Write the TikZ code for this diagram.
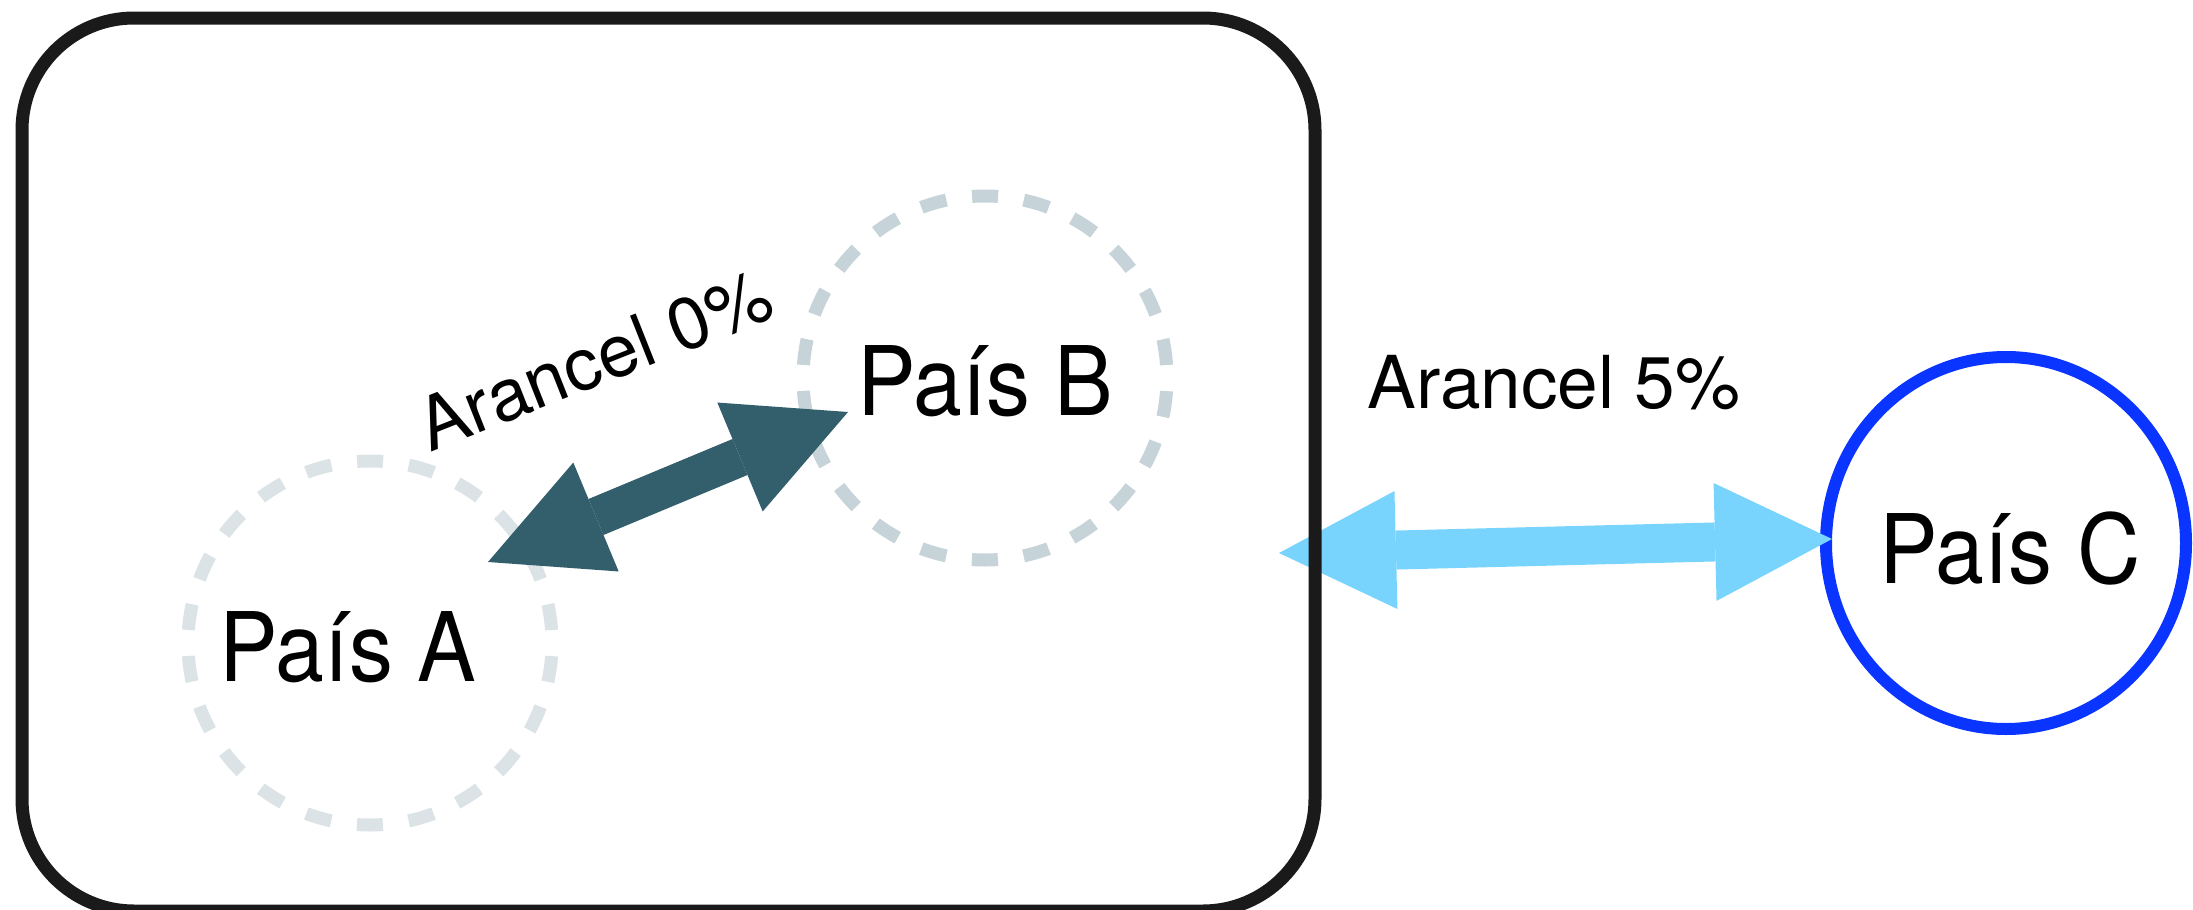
\documentclass[tikz,border=0pt]{standalone}
\usepackage{fontspec}
\setmainfont{TeX Gyre Heros}[FakeStretch=0.915]
\newfontfamily\lblfont{TeX Gyre Heros}
\usetikzlibrary{arrows.meta,shapes.geometric}
\definecolor{framec}{HTML}{1A1A1A}
\definecolor{ringA}{HTML}{DCE3E6}
\definecolor{ringB}{HTML}{C6D3D8}
\definecolor{tealc}{HTML}{335E6B}
\definecolor{skyc}{HTML}{79D4FD}
\definecolor{bluec}{HTML}{0A34FF}
\begin{document}
\begin{tikzpicture}[x=1pt,y=-1pt,
  ring/.style={circle, draw, line width=13pt, minimum size=364pt, inner sep=0pt,
    dash pattern=on 25.99pt off 25.99pt, dash phase=39pt},
  country/.style={font=\fontsize{96}{110}\selectfont, inner sep=0pt, anchor=base},
  tariff/.style={font=\lblfont\fontsize{73}{85}\selectfont, inner sep=0pt, anchor=base},
  fatarrow/.style={line width=39pt,
    {Triangle[length=117pt,width=118pt,line width=0pt]}-{Triangle[length=117pt,width=118pt,line width=0pt]}},
  bloc/.style={rectangle, draw=framec, line width=13pt, rounded corners=112pt, inner sep=0pt}
]
\useasboundingbox (0,0) rectangle (2193,910);
% rings
\node[ring, draw=ringA] (ringa) at (370,643) {};
\node[ring, draw=ringB] (ringb) at (985,378) {};
\node[ellipse, draw=bluec, line width=12pt, minimum width=360pt, minimum height=372pt, inner sep=0pt] (ringc) at (2006,543) {};
% arrow end points
\coordinate (ab1) at (488,562);
\coordinate (ab2) at (848,412);
\coordinate (bc1) at (1279,553);
\coordinate (bc2) at (1832,539);
\draw[fatarrow, tealc] (ab1) -- (ab2);
\draw[fatarrow, skyc] (bc1) -- (bc2);
% frame
\node[bloc, minimum width=1293pt, minimum height=893pt] (frame) at (668.5,464.5) {};
% texts
\node[country] (ta) at (348,681) {País A};
\node[country] (tb) at (985.5,415) {País B};
\node[country] (tc) at (2010,583) {País C};
\node[tariff] (l5) at (1554,408) {Arancel 5\%};
\node[tariff, rotate=21.6] (l0) at (604,384) {Arancel 0\%};
\end{tikzpicture}
\end{document}
